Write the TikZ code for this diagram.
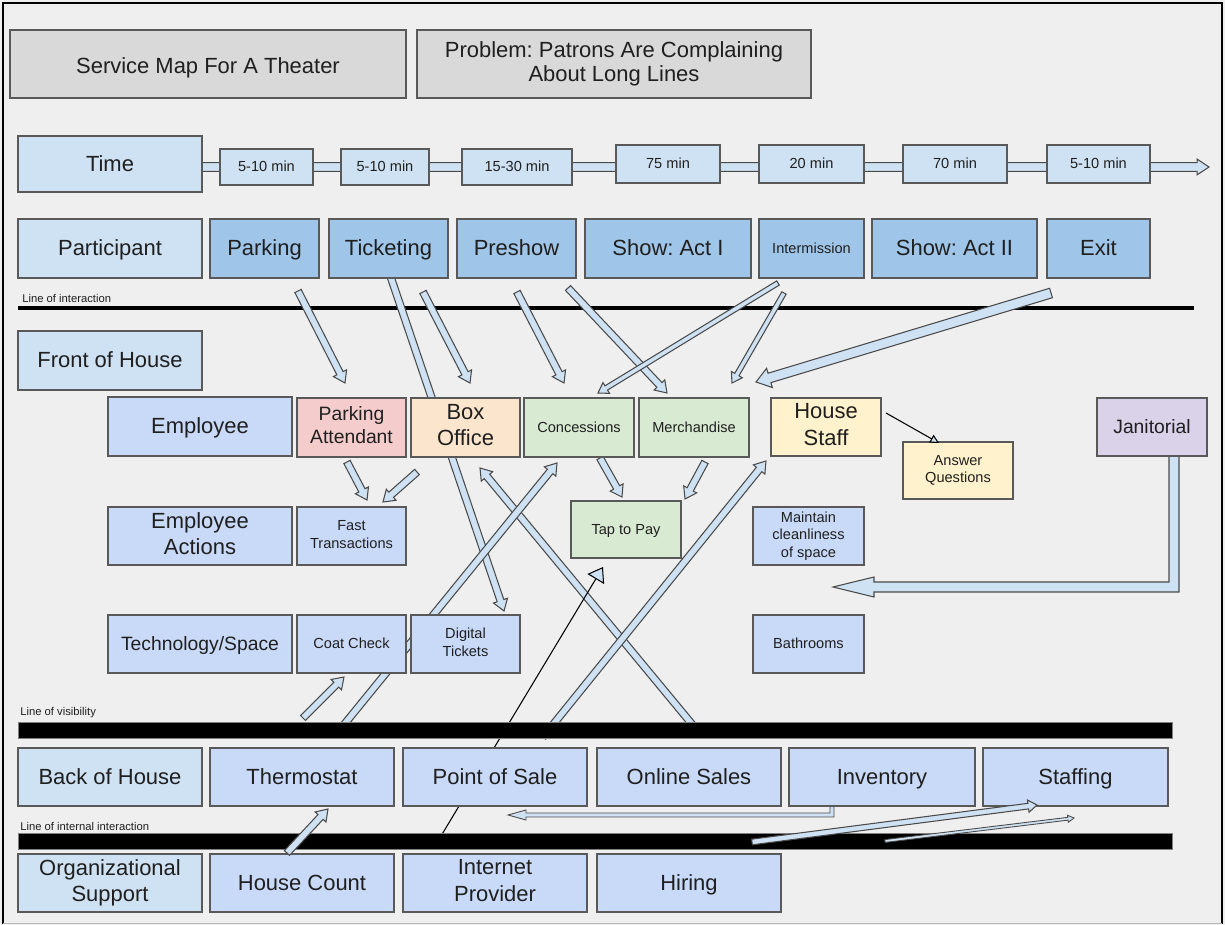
\documentclass[tikz,border=0pt]{standalone}
\usepackage{fontspec}
\setmainfont{Liberation Sans}
\usetikzlibrary{calc,arrows.meta}
\frenchspacing

\definecolor{bgc}{HTML}{EFEFEF}
\definecolor{hdr}{HTML}{D9D9D9}
\definecolor{lblue}{HTML}{CFE2F3}
\definecolor{pblue}{HTML}{9FC5E8}
\definecolor{cblue}{HTML}{C9DAF8}
\definecolor{pinkc}{HTML}{F4CCCC}
\definecolor{peach}{HTML}{FCE5CD}
\definecolor{greenc}{HTML}{D9EAD3}
\definecolor{yellowc}{HTML}{FFF2CC}
\definecolor{lav}{HTML}{D9D2E9}
\definecolor{bordc}{HTML}{595959}
\definecolor{txtc}{HTML}{1F1F1F}
\definecolor{afill}{HTML}{CFE2F3}
\definecolor{aline}{HTML}{4A4A4A}

\newcommand\fbig{\fontsize{12.5}{15}\selectfont}
\newcommand\fhead{\fontsize{12.5}{13.5}\selectfont}
\newcommand\fmid{\fontsize{11}{13.2}\selectfont}
\newcommand\fsml{\fontsize{8.3}{10}\selectfont}
\newcommand\ftin{\fontsize{6.4}{7.5}\selectfont}
% invisible rules that centre a line on its capitals
\newcommand\vstrut{\rule[-0.22em]{0pt}{1.08em}}
\newcommand\hstrut{\rule[-0.22em]{0pt}{1.34em}}
\newcommand\pstrut{\rule[-0.22em]{0pt}{1.78em}}

% box given by its corners (x1,y1) and (x2,y2) in pixel units
\newcommand\bx[7]{\node[#1, minimum width={(#5-#3)*0.02cm}, minimum height={(#6-#4)*0.02cm}] (#2) at ({(#3+#5)/2},{(#4+#6)/2}) {#7};}

% block arrow: [style] {from} {to} {shaft half width} {head half width} {head length}
\newcommand\barrow[6][]{%
  \draw[arrowbody,#1] let \p1=(#2), \p2=(#3),
      \n1={atan2(\y2-\y1,\x2-\x1)},
      \n2={veclen(\x2-\x1,\y2-\y1)-#6} in
    ($(\p1)+(\n1+90:#4)$) -- ($(\p1)+(\n1:\n2)+(\n1+90:#4)$)
    -- ($(\p1)+(\n1:\n2)+(\n1+90:#5)$) -- (\p2)
    -- ($(\p1)+(\n1:\n2)+(\n1-90:#5)$) -- ($(\p1)+(\n1:\n2)+(\n1-90:#4)$)
    -- ($(\p1)+(\n1-90:#4)$) -- cycle;}

\tikzset{
  box/.style={draw=bordc, line width=0.6pt, inner sep=1pt, outer sep=0pt,
    align=center, text=txtc, font=\fbig,
    execute at begin node={\vstrut}, execute at end node={\vstrut}},
  fmd/.style={font=\fmid},
  fsm/.style={font=\fsml},
  hbox/.style={box, fill=hdr, font=\fhead, execute at begin node={\hstrut}},
  lab/.style={box, fill=lblue},
  stage/.style={box, fill=pblue},
  cbx/.style={box, fill=cblue},
  pinkbox/.style={box, fill=pinkc},
  peachbox/.style={box, fill=peach},
  greenbox/.style={box, fill=greenc},
  yelbox/.style={box, fill=yellowc},
  lavbox/.style={box, fill=lav},
  arrowbody/.style={draw=aline, fill=afill, line width=0.6pt, line join=miter},
  bar/.style={fill=black, draw=gray, line width=0.5pt},
  barlabel/.style={anchor=west, inner sep=0pt, font=\ftin, text=txtc},
  pointer/.style={draw=black, line width=0.6pt},
}

\begin{document}
\begin{tikzpicture}[x=0.02cm, y=-0.02cm]
\fill[bgc] (0,0) rectangle (1225,925);
\useasboundingbox (0,0) rectangle (1225,925);

% page frame
\draw[black, line width=1.2pt] (3,924) -- (3,3) -- (1222,3) -- (1222,924);
\draw[gray!55, line width=0.6pt] (3,923.5) -- (1222,923.5);

% line of interaction
\draw[black, line width=2.8pt] (18,308) -- (1194,308);
\node[barlabel] (lint) at (22,298) {Line of interaction};

% arrow end points
\coordinate (a1s) at (298,291);  \coordinate (a1e) at (345,383);
\coordinate (a2s) at (389,272);  \coordinate (a2e) at (504,611);
\coordinate (a3s) at (423,292);  \coordinate (a3e) at (470,383);
\coordinate (a4s) at (517,292);  \coordinate (a4e) at (564,383);
\coordinate (a5s) at (568,288);  \coordinate (a5e) at (667,393);
\coordinate (a6s) at (778,283);  \coordinate (a6e) at (598,393);
\coordinate (a7s) at (784,293);  \coordinate (a7e) at (732,383);
\coordinate (a8s) at (1051,293); \coordinate (a8e) at (756,382);
\coordinate (a9s) at (347,462);  \coordinate (a9e) at (367,500);
\coordinate (a10s) at (417,472); \coordinate (a10e) at (383,502);
\coordinate (a11s) at (600,458); \coordinate (a11e) at (622,497);
\coordinate (a12s) at (705,462); \coordinate (a12e) at (685,499);
\coordinate (a13s) at (696,729); \coordinate (a13e) at (480,468);
\coordinate (a14s) at (338,732); \coordinate (a14e) at (557,463);
\coordinate (a15s) at (543,737); \coordinate (a15e) at (766,461);
\coordinate (a16s) at (303,718); \coordinate (a16e) at (344,677);
\coordinate (a17s) at (287,853); \coordinate (a17e) at (328,809);
\coordinate (a20s) at (752,842); \coordinate (a20e) at (1037,805);
\coordinate (a21s) at (885,841); \coordinate (a21e) at (1074,818);
\coordinate (ls) at (441,836);   \coordinate (le) at (603,567);
\coordinate (hq) at (886,413);   \coordinate (hqe) at (939,443);
\coordinate (ts) at (202,167);   \coordinate (te) at (1209,167);

% time line
\barrow{ts}{te}{2.5pt}{4.5pt}{6.8pt}

% journey arrows lying beneath the boxes
\barrow{a1s}{a1e}{2pt}{4.2pt}{6.2pt}
\barrow{a2s}{a2e}{2pt}{4.2pt}{6.2pt}
\barrow{a3s}{a3e}{2pt}{4.2pt}{6.2pt}
\barrow{a4s}{a4e}{2pt}{4.2pt}{6.2pt}
\barrow{a5s}{a5e}{2pt}{4.2pt}{6.2pt}
\barrow{a6s}{a6e}{1.4pt}{3.6pt}{5.5pt}
\barrow{a7s}{a7e}{1.4pt}{3.6pt}{5.5pt}
\barrow{a8s}{a8e}{2.8pt}{5.7pt}{8pt}
\barrow{a9s}{a9e}{2pt}{4.2pt}{6.2pt}
\barrow{a10s}{a10e}{2pt}{4.2pt}{6.2pt}
\barrow{a11s}{a11e}{2pt}{4.2pt}{6.2pt}
\barrow{a12s}{a12e}{2pt}{4.2pt}{6.2pt}
\barrow{a13s}{a13e}{2pt}{4.2pt}{6.2pt}
\barrow{a14s}{a14e}{2pt}{4.2pt}{6.2pt}
\barrow{a15s}{a15e}{2pt}{4.2pt}{6.2pt}
\barrow{a16s}{a16e}{2pt}{4.2pt}{6.2pt}
\draw[pointer, -{Triangle[length=8pt, width=11pt, fill=afill]}] (ls) -- (le);

% janitorial elbow arrow
\draw[arrowbody] (1169,450) -- (1169,582) -- (874,582) -- (874,577) -- (833,587)
  -- (874,597) -- (874,592) -- (1179,592) -- (1179,450) -- cycle;
% inventory elbow arrow
\draw[arrowbody, line width=0.5pt] (830,800) -- (830,813) -- (526,813) -- (526,810) -- (508,815)
  -- (526,820) -- (526,817) -- (834,817) -- (834,800) -- cycle;

% header
\bx{hbox}{title}{10}{30}{406}{98}{Service Map For A Theater}
\bx{hbox, execute at begin node={\pstrut}}{problem}{417}{30}{811}{98}{Problem: Patrons Are Complaining\\About Long Lines}

% time
\bx{lab}{time}{18}{136}{202}{192}{Time}
\bx{lab,fsm}{t1}{220}{149}{313}{185}{5-10 min}
\bx{lab,fsm}{t2}{341}{149}{429}{185}{5-10 min}
\bx{lab,fsm}{t3}{462}{149}{572}{185}{15-30 min}
\bx{lab,fsm}{t4}{616}{145}{720}{183}{75 min}
\bx{lab,fsm}{t5}{759}{145}{864}{183}{20 min}
\bx{lab,fsm}{t6}{903}{145}{1007}{183}{70 min}
\bx{lab,fsm}{t7}{1047}{145}{1150}{183}{5-10 min}

% participant
\bx{lab}{part}{18}{219}{202}{278}{Participant}
\bx{stage}{park}{210}{219}{319}{278}{Parking}
\bx{stage}{tick}{329}{219}{448}{278}{Ticketing}
\bx{stage}{pre}{457}{219}{576}{278}{Preshow}
\bx{stage}{act1}{585}{219}{751}{278}{Show: Act I}
\bx{stage,fsm}{inter}{759}{219}{864}{278}{Intermission}
\bx{stage}{act2}{872}{219}{1037}{278}{Show: Act II}
\bx{stage}{exit}{1047}{219}{1150}{278}{Exit}

% front of house
\bx{lab}{foh}{18}{331}{202}{390}{Front of House}
\bx{cbx}{emp}{108}{397}{292}{456}{Employee}
\bx{pinkbox,fmd}{pa}{297}{398}{406}{457}{Parking\\Attendant}
\bx{peachbox}{bo}{411}{398}{520}{457}{Box\\Office}
\bx{greenbox,fsm}{conc}{524}{398}{634}{457}{Concessions}
\bx{greenbox,fsm}{merch}{639}{398}{749}{457}{Merchandise}
\bx{yelbox}{hs}{771}{398}{881}{456}{House\\Staff}
\bx{yelbox,fsm}{aq}{903}{442}{1013}{499}{Answer\\Questions}
\bx{lavbox,fmd}{jan}{1097}{398}{1207}{456}{Janitorial}

\bx{cbx}{ea}{108}{507}{292}{565}{Employee\\Actions}
\bx{cbx,fsm}{ft}{297}{507}{406}{565}{Fast\\Transactions}
\bx{greenbox,fsm}{ttp}{571}{501}{681}{558}{Tap to Pay}
\bx{cbx,fsm}{mc}{753}{507}{864}{565}{Maintain\\cleanliness\\of space}

\bx{cbx,fmd}{tech}{108}{615}{292}{673}{Technology/Space}
\bx{cbx,fsm}{cc}{297}{615}{406}{673}{Coat Check}
\bx{cbx,fsm}{dt}{411}{615}{520}{673}{Digital\\Tickets}
\bx{cbx,fsm}{bath}{753}{615}{864}{673}{Bathrooms}

% back of house
\bx{lab}{boh}{18}{748}{202}{806}{Back of House}
\bx{cbx}{thermo}{210}{748}{394}{806}{Thermostat}
\bx{cbx}{pos}{403}{748}{587}{806}{Point of Sale}
\bx{cbx}{online}{597}{748}{781}{806}{Online Sales}
\bx{cbx}{inv}{789}{748}{975}{806}{Inventory}
\bx{cbx}{staff}{983}{748}{1168}{806}{Staffing}

% organizational support
\bx{lab}{org}{18}{854}{202}{912}{Organizational\\Support}
\bx{cbx}{hc}{210}{854}{394}{912}{House Count}
\bx{cbx}{ip}{403}{854}{587}{912}{Internet\\Provider}
\bx{cbx}{hire}{597}{854}{781}{912}{Hiring}

% lines of visibility and internal interaction
\draw[bar] (18,722) rectangle (1172,738);
\node[barlabel] (lvis) at (20,713) {Line of visibility};
\draw[bar] (18,833) rectangle (1172,849);
\node[barlabel] (lini) at (20,826) {Line of internal interaction};

% arrows drawn over the bars
\barrow{a17s}{a17e}{2pt}{4.2pt}{6.2pt}
\barrow{a20s}{a20e}{1.6pt}{3.5pt}{5pt}
\barrow[line width=0.5pt]{a21s}{a21e}{0.8pt}{2pt}{3.5pt}
\draw[pointer, -{Triangle[length=5pt, width=5pt, fill=afill]}] (hq) -- (hqe);
\end{tikzpicture}
\end{document}
